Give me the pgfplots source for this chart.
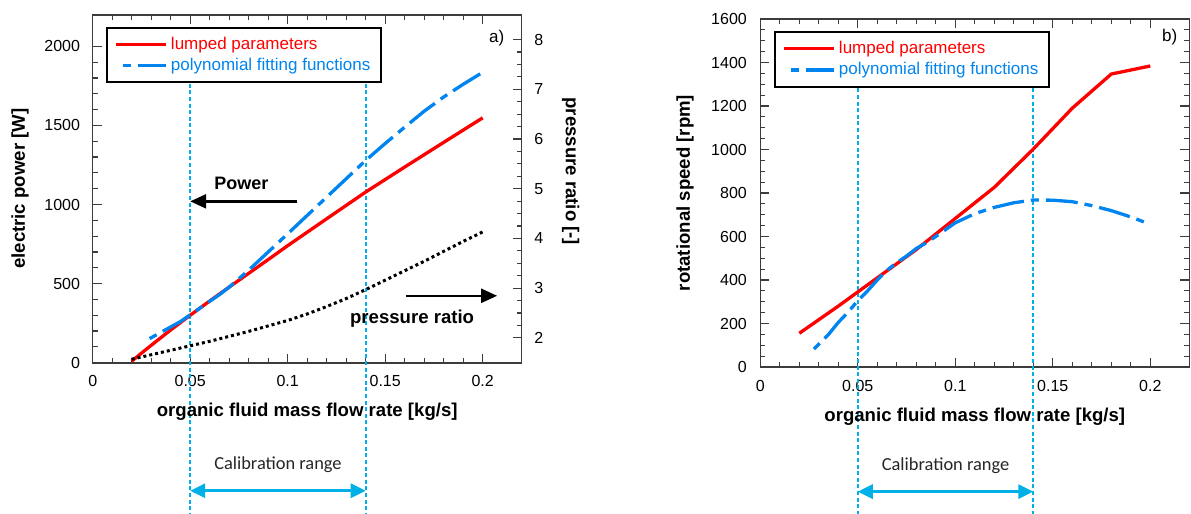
\documentclass[border=0pt]{standalone}
\usepackage{pgfplots}
\pgfplotsset{compat=1.18}
\usepackage{fontspec}
\setmainfont{Liberation Sans}
\newfontfamily\calibri{Carlito}
\usetikzlibrary{arrows.meta}

\definecolor{lpred}{RGB}{255,0,0}
\definecolor{pfblue}{RGB}{0,132,240}
\definecolor{calib}{RGB}{0,176,230}
\definecolor{framec}{RGB}{60,60,60}

\tikzset{calline/.style={calib, line width=1pt, dash pattern=on 2pt off 1.3pt}}

\pgfplotsset{
  base/.style={
    scale only axis, width=214.5pt, height=174pt,
    xmin=0, xmax=0.22, xtick={0,0.05,0.1,0.15,0.2}, minor x tick num=4,
    scaled x ticks=false, scaled y ticks=false,
    /pgf/number format/fixed, /pgf/number format/precision=2,
    /pgf/number format/1000 sep={},
    /pgf/number format/assume math mode=true,
    tick label style={font=\fontsize{8}{9}\selectfont},
    xticklabel style={yshift=-3pt},
    label style={font=\bfseries\fontsize{9.3}{11}\selectfont},
    xlabel style={anchor=center}, ylabel style={anchor=center},
    axis line style={framec, line width=0.8pt},
    every tick/.style={framec, line width=0.6pt},
    major tick length=4.5pt, minor tick length=2.5pt,
    tick align=inside,
    clip=false,
    legend cell align=left,
    legend style={anchor=north west, draw=black, line width=1pt, fill=white,
      font=\fontsize{8.5}{10}\selectfont, inner xsep=4pt, inner ysep=3pt,
      row sep=0pt, nodes={inner sep=1.5pt}},
    legend image code/.code={\draw[#1] (0pt,0pt) -- (25pt,0pt);},
  },
  lumped/.style={lpred, line width=1.65pt},
  poly/.style={pfblue, line width=1.65pt, dash pattern=on 16pt off 3.5pt on 4pt off 3.5pt, dash phase=16pt},
}

\begin{document}
\begin{tikzpicture}
\path[use as bounding box] (0,0) rectangle (595.5pt,-257pt);

% ---------- a) electric power ----------
\begin{axis}[base, at={(46.35pt,-181.35pt)}, anchor=south west,
  ymin=0, ymax=2200, ytick={0,500,...,2000}, minor y tick num=4,
  ytick pos=left, xtick pos=both,
  yticklabel style={xshift=-2.8pt},
  xlabel={organic fluid mass flow rate [kg/s]},
  ylabel={electric power [W]},
  xlabel style={at={(axis description cs:0.5,0)}, yshift=-24.65pt},
  ylabel style={at={(axis description cs:-0.1695,0.5)}},
  legend style={at={(axis description cs:0.0303,0.9655)}}]

\draw[calline] (axis cs:0.05,1763) -- (axis cs:0.05,-955);
\draw[calline] (axis cs:0.14,1763) -- (axis cs:0.14,-955);

\addplot[lumped] coordinates {
  (0.02,10) (0.03,110) (0.04,207) (0.05,300) (0.06,390) (0.07,478)
  (0.08,565) (0.09,652) (0.1,740) (0.12,910) (0.14,1079) (0.16,1237)
  (0.18,1393) (0.2,1548)
};
\addlegendentry[text=lpred]{lumped parameters}
\addplot[poly] coordinates {
  (0.026,132) (0.03,158) (0.035,192) (0.04,226) (0.045,260) (0.05,303)
  (0.055,345) (0.06,388) (0.065,430) (0.07,478) (0.08,585) (0.09,700)
  (0.1,815) (0.11,931) (0.12,1047) (0.13,1163) (0.14,1279) (0.15,1386)
  (0.16,1489) (0.17,1590) (0.18,1680) (0.19,1760) (0.2,1836)
};
\addlegendentry[text=pfblue]{polynomial fitting functions}

\node[font=\bfseries\fontsize{9}{10}\selectfont] at (axis cs:0.0762,1136) {Power};
\draw[line width=1.2pt, -{Triangle[length=8pt,width=7pt]}] (axis cs:0.1049,1020) -- (axis cs:0.05,1020);
\node[font=\bfseries\fontsize{9.3}{10}\selectfont] at (axis cs:0.1638,280) {pressure ratio};
\draw[line width=1.2pt, -{Triangle[length=8pt,width=7pt]}] (axis cs:0.1605,423) -- (axis cs:0.2074,423);
\node[font=\fontsize{8.5}{10}\selectfont] at (axis cs:0.2072,2055) {a)};

\draw[calib, line width=1.5pt, {Triangle[length=7.5pt,width=7pt]}-{Triangle[length=7.5pt,width=7pt]}]
  (axis cs:0.05,-809.5) -- (axis cs:0.14,-809.5);
\node[font=\calibri\fontsize{9.2}{11}\selectfont, text=black!85] at (axis cs:0.095,-645.6) {Calibration range};
\end{axis}

% ---------- a) pressure ratio (right axis) ----------
\begin{axis}[base, at={(46.35pt,-181.35pt)}, anchor=south west,
  hide x axis, axis y line*=right, tick align=inside,
  ymin=1.5, ymax=8.5, ytick={2,...,8}, minor y tick num=3,
  yticklabel style={xshift=2.8pt},
  ylabel={pressure ratio [-]},
  ylabel style={at={(axis description cs:1.114,0.55)}, rotate=180}]
\addplot[black, line width=1.5pt, dash pattern=on 1.5pt off 1.5pt] coordinates {
  (0.02,1.57) (0.03,1.66) (0.04,1.75) (0.05,1.84) (0.06,1.93) (0.07,2.03)
  (0.08,2.13) (0.09,2.24) (0.1,2.35) (0.11,2.48) (0.12,2.63) (0.13,2.79)
  (0.14,2.97) (0.15,3.16) (0.16,3.35) (0.17,3.54) (0.18,3.74) (0.19,3.94)
  (0.2,4.13)
};
\end{axis}

% ---------- b) rotational speed ----------
\begin{axis}[base, at={(380.15pt,-183.5pt)}, anchor=south west,
  ymin=0, ymax=1600, ytick={0,200,...,1600}, minor y tick num=3,
  ytick pos=both, xtick pos=both,
  yticklabel style={xshift=-3.2pt},
  xlabel={organic fluid mass flow rate [kg/s]},
  ylabel={rotational speed [rpm]},
  xlabel style={at={(axis description cs:0.5,0)}, yshift=-25pt},
  ylabel style={at={(axis description cs:-0.1755,0.5)}},
  legend style={at={(axis description cs:0.0312,0.9655)}}]

\draw[calline] (axis cs:0.05,1281) -- (axis cs:0.05,-676);
\draw[calline] (axis cs:0.14,1281) -- (axis cs:0.14,-676);

\addplot[lumped] coordinates {
  (0.02,155) (0.04,280) (0.06,410) (0.08,540) (0.1,683) (0.12,826)
  (0.14,1002) (0.16,1190) (0.18,1347) (0.2,1384)
};
\addlegendentry[text=lpred]{lumped parameters}
\addplot[poly] coordinates {
  (0.025,60) (0.03,105) (0.035,150) (0.04,205) (0.045,252) (0.05,305)
  (0.055,350) (0.06,400) (0.065,445) (0.07,480) (0.075,510) (0.08,545)
  (0.085,570) (0.09,600) (0.1,663) (0.11,705) (0.12,734) (0.13,755)
  (0.14,768) (0.15,767) (0.16,760) (0.17,742) (0.18,719) (0.19,690)
  (0.2,656)
};
\addlegendentry[text=pfblue]{polynomial fitting functions}

\node[font=\fontsize{8.5}{10}\selectfont] at (axis cs:0.21,1516) {b)};

\draw[calib, line width=1.5pt, {Triangle[length=7.5pt,width=7pt]}-{Triangle[length=7.5pt,width=7pt]}]
  (axis cs:0.05,-573) -- (axis cs:0.14,-573);
\node[font=\calibri\fontsize{9.2}{11}\selectfont, text=black!85] at (axis cs:0.095,-455) {Calibration range};
\end{axis}
\end{tikzpicture}
\end{document}
